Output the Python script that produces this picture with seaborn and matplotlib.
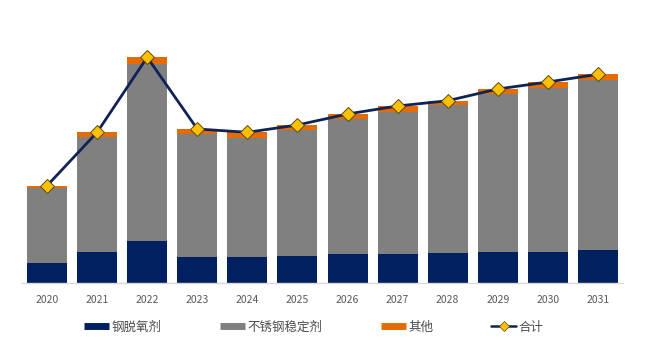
import numpy as np
import pandas as pd
import matplotlib
matplotlib.use("Agg")
import matplotlib.pyplot as plt
import seaborn as sns
from matplotlib.lines import Line2D

years = ["2020", "2021", "2022", "2023", "2024", "2025", "2026", "2027", "2028", "2029", "2030", "2031"]
deox = [19.8, 30.2, 41.8, 25.5, 25.8, 26.8, 28.5, 28.5, 29.2, 30.2, 30.8, 32.5]
stab = [74.4, 115.6, 176.7, 122.7, 119.0, 125.7, 135.0, 142.3, 148.0, 158.0, 164.0, 170.3]
other = [2.6, 4.4, 6.7, 5.3, 5.4, 5.0, 5.0, 5.7, 4.6, 5.3, 5.7, 5.4]
labels = ["钢脱氧剂", "不锈钢稳定剂", "其他", "合计"]

c_navy = "#002060"
c_gray = "#808080"
c_orange = "#E36C09"
c_line = "#0F2356"
c_marker = "#FFC000"

sns.set_theme(style="white")
plt.rcParams['font.family'] = ['Noto Sans CJK SC', 'DejaVu Sans']

df = pd.DataFrame({"year": years, "deox": deox, "stab": stab, "other": other})
df["s2"] = df["deox"] + df["stab"]
df["total"] = df["s2"] + df["other"]

fig = plt.figure(figsize=(6.5, 3.5), dpi=100)
ax = fig.add_axes([22 / 650, (350 - 282.5) / 350, 601 / 650, 250 / 350])

sns.barplot(data=df, x="year", y="total", color=c_orange, saturation=1, width=0.8, ax=ax, linewidth=0)
sns.barplot(data=df, x="year", y="s2", color=c_gray, saturation=1, width=0.8, ax=ax, linewidth=0)
sns.barplot(data=df, x="year", y="deox", color=c_navy, saturation=1, width=0.8, ax=ax, linewidth=0)
sns.lineplot(x=np.arange(len(years)), y=df["total"].values, ax=ax, color=c_line, linewidth=2.0,
             marker="D", markersize=7, markerfacecolor=c_marker, markeredgecolor="#5a4a10",
             markeredgewidth=0.7, zorder=5)

ax.set_xlim(-0.5, 11.5)
ax.set_ylim(0, 250)
ax.set_xlabel("")
ax.set_ylabel("")
ax.set_yticks([])
for s in ["top", "right", "left"]:
    ax.spines[s].set_visible(False)
ax.spines["bottom"].set_color("#d9d9d9")
ax.spines["bottom"].set_linewidth(1.0)
ax.tick_params(axis="x", length=0, pad=9, labelsize=7.5, labelcolor="#595959")

handles = [
    Line2D([0], [0], color=c_navy, lw=5, solid_capstyle="butt"),
    Line2D([0], [0], color=c_gray, lw=5, solid_capstyle="butt"),
    Line2D([0], [0], color=c_orange, lw=5, solid_capstyle="butt"),
    Line2D([0], [0], color=c_line, lw=1.8, marker="D", markersize=5,
           markerfacecolor=c_marker, markeredgecolor="#5a4a10", markeredgewidth=0.5),
]
fig.legend(handles, labels, loc="center left", bbox_to_anchor=(73 / 650, 1 - 327 / 350),
           ncol=4, frameon=False, fontsize=9, handlelength=2.0, handletextpad=0.2,
           columnspacing=4.65, labelcolor="#4d4d4d")

fig.savefig("out.png", dpi=100)
